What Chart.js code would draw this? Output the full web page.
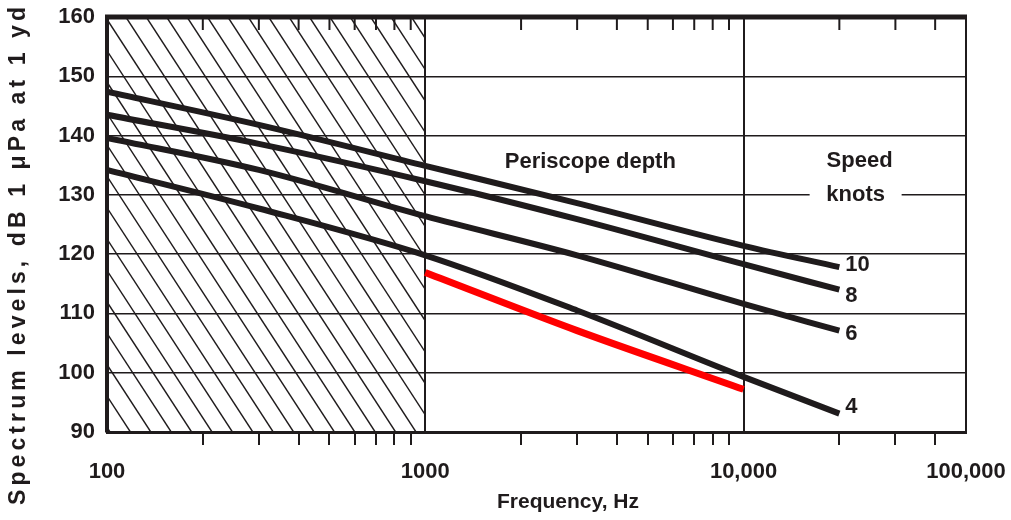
<!DOCTYPE html>
<html>
<head>
<meta charset="utf-8">
<title>Submarine noise spectrum</title>
<script src="https://cdn.jsdelivr.net/npm/chart.js@4.4.1/dist/chart.umd.min.js"></script>
<style>
  html, body { margin: 0; padding: 0; background: #fff; }
  #wrap { width: 1011px; height: 520px; }
</style>
</head>
<body>
<div id="wrap"><canvas id="spectrumChart" width="1011" height="520"></canvas></div>
<script>
// values (Hz / dB)
var freqs = [100, 300, 1000, 3000, 10000, 20000];
var speed10 = [147.4, 141.8, 134.9, 128.6, 121.4, 117.8];
var speed8 = [143.5, 138.6, 132.3, 125.9, 118.3, 114.0];
var speed6 = [139.6, 134.2, 126.4, 119.8, 111.6, 107.1];
var speed4 = [134.2, 127.7, 119.8, 110.5, 99.3, 93.1];
var redFreqs = [1000, 3000, 10000];
var redLevels = [116.9, 107.1, 97.2];
var speedNames = ['10', '8', '6', '4'];

var xTickValues = [100, 1000, 10000, 50000];
var xTickLabels = ['100', '1000', '10,000', '100,000'];
var xMinorTicks = [200, 300, 400, 500, 600, 700, 800, 900,
                   2000, 3000, 4000, 5000, 6000, 7000, 8000, 9000,
                   20000, 30000, 40000];
var shadedUpTo = 1000;

var ink = '#1f1b1c';
var fam = '"Liberation Sans", Arial, Helvetica, sans-serif';

function pts(xs, ys) {
    return xs.map(function(x, i) { return { x: x, y: ys[i] }; });
}

function curve(data, color, width) {
    return {
        data: data,
        borderColor: color,
        borderWidth: width,
        pointRadius: 0,
        fill: false,
        cubicInterpolationMode: 'monotone',
        borderCapStyle: 'butt'
    };
}

var extras = {
    id: 'extras',
    beforeDatasetsDraw: function(chart) {
        // hatched band below 1000 Hz
        var ctx = chart.ctx, a = chart.chartArea;
        var xr = chart.scales.x.getPixelForValue(shadedUpTo);
        var run = (a.bottom - a.top) * 0.65;
        ctx.save();
        ctx.beginPath();
        ctx.rect(a.left, a.top, xr - a.left, a.bottom - a.top);
        ctx.clip();
        ctx.strokeStyle = ink;
        ctx.lineWidth = 1.4;
        for (var s = a.left - run + 3; s < xr; s += 20.4) {
            ctx.beginPath();
            ctx.moveTo(s, a.top);
            ctx.lineTo(s + run, a.bottom);
            ctx.stroke();
        }
        ctx.restore();
    },
    afterDatasetsDraw: function(chart) {
        var ctx = chart.ctx, a = chart.chartArea;
        var xs = chart.scales.x, ys = chart.scales.y;
        ctx.save();
        ctx.strokeStyle = ink;

        // frame top / right
        ctx.lineWidth = 5;
        ctx.beginPath(); ctx.moveTo(a.left - 2, a.top); ctx.lineTo(a.right + 1, a.top); ctx.stroke();
        ctx.lineWidth = 2;
        ctx.beginPath(); ctx.moveTo(a.right, a.top); ctx.lineTo(a.right, a.bottom); ctx.stroke();

        // little ticks hanging from the top edge
        ctx.lineWidth = 2;
        xMinorTicks.forEach(function(v) {
            var px = xs.getPixelForValue(v);
            ctx.beginPath(); ctx.moveTo(px, a.top); ctx.lineTo(px, a.top + 13); ctx.stroke();
        });

        ctx.fillStyle = ink;
        ctx.font = 'bold 22px ' + fam;
        ctx.textBaseline = 'middle';
        ctx.textAlign = 'center';
        ctx.fillText('Periscope depth', xs.getPixelForValue(3300), ys.getPixelForValue(135.6));

        var kx = xs.getPixelForValue(22500), ky = ys.getPixelForValue(130);
        ctx.fillText('Speed', kx + 4, ys.getPixelForValue(135.8));
        ctx.fillStyle = '#fff';
        ctx.fillRect(kx - 46, ky - 5, 92, 10);
        ctx.fillStyle = ink;
        ctx.fillText('knots', kx, ky);

        // speed labels at curve ends
        var dy = [-2, 6, 3, -7];
        ctx.textAlign = 'left';
        speedNames.forEach(function(name, i) {
            var pts = chart.getDatasetMeta(i).data;
            var p = pts[pts.length - 1];
            ctx.fillText(name, p.x + 6, p.y + dy[i]);
        });

        // axis titles
        ctx.textAlign = 'center';
        ctx.font = 'bold 21px ' + fam;
        ctx.fillText('Frequency, Hz', 568, 502);

        var yTitle = 'Spectrum levels, dB 1 \u03bcPa at 1 yd';
        ctx.font = 'bold 23px ' + fam;
        var w = ctx.measureText(yTitle).width;
        var gap = (498 - w) / (yTitle.length - 1);
        ctx.letterSpacing = gap.toFixed(1) + 'px';
        ctx.translate(19, 256);
        ctx.rotate(-Math.PI / 2);
        ctx.fillText(yTitle, gap / 2, 0);
        ctx.restore();
    }
};

var ctx = document.getElementById('spectrumChart').getContext('2d');
var spectrumChart = new Chart(ctx, {
    type: 'line',
    data: {
        datasets: [
            curve(pts(freqs, speed10), ink, 6),
            curve(pts(freqs, speed8), ink, 6),
            curve(pts(freqs, speed6), ink, 6),
            curve(pts(freqs, speed4), ink, 6),
            curve(pts(redFreqs, redLevels), '#ff0000', 7)
        ]
    },
    options: {
        responsive: false,
        animation: false,
        devicePixelRatio: 1,
        layout: { padding: { top: 17, right: 45, left: 0, bottom: 0 } },
        plugins: {
            legend: { display: false },
            tooltip: { enabled: false }
        },
        scales: {
            x: {
                type: 'logarithmic',
                min: 100,
                max: 50000,
                afterFit: function(scale) {
                    scale.height = 88;
                    scale.paddingLeft = 0;
                    scale.paddingRight = 0;
                },
                afterBuildTicks: function(scale) {
                    var all = xTickValues.concat(xMinorTicks).sort(function(a, b) { return a - b; });
                    scale.ticks = all.map(function(v) { return { value: v, major: xTickValues.indexOf(v) >= 0 }; });
                },
                ticks: {
                    autoSkip: false,
                    maxRotation: 0,
                    minRotation: 0,
                    padding: 14,
                    color: ink,
                    font: { family: fam, size: 22, weight: 'bold' },
                    callback: function(value) {
                        var i = xTickValues.indexOf(value);
                        return i >= 0 ? xTickLabels[i] : '';
                    }
                },
                grid: {
                    lineWidth: 2,
                    tickLength: 13,
                    tickWidth: 2,
                    color: function(c) {
                        var v = c.tick && c.tick.value;
                        return (v === 1000 || v === 10000) ? ink : 'rgba(0,0,0,0)';
                    },
                    tickColor: function(c) {
                        var v = c.tick && c.tick.value;
                        return xMinorTicks.indexOf(v) >= 0 ? ink : 'rgba(0,0,0,0)';
                    }
                },
                border: { color: ink, width: 3 }
            },
            y: {
                min: 90,
                max: 160,
                afterFit: function(scale) {
                    scale.width = 107;
                    scale.paddingTop = 0;
                    scale.paddingBottom = 0;
                },
                ticks: {
                    stepSize: 10,
                    padding: 12,
                    color: ink,
                    font: { family: fam, size: 22, weight: 'bold' }
                },
                grid: { color: ink, lineWidth: 1.5, drawTicks: false },
                border: { color: ink, width: 4 }
            }
        }
    },
    plugins: [extras]
});
</script>
</body>
</html>
